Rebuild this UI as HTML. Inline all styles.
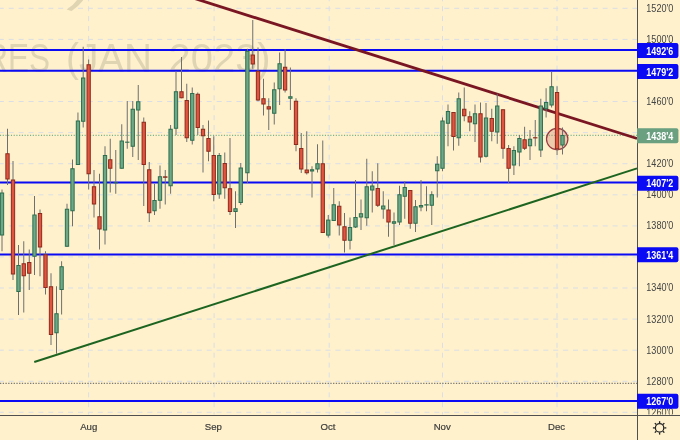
<!DOCTYPE html>
<html><head><meta charset="utf-8"><title>Chart</title>
<style>html,body{margin:0;padding:0;background:#fef1cc;}svg{display:block;will-change:transform;opacity:0.999}</style></head>
<body><svg width="680" height="440" viewBox="0 0 680 440">
<rect width="680" height="440" fill="#fef1cc"/>
<line x1="-1.2" x2="637" y1="412.3" y2="412.3" stroke="#dbdee6" stroke-width="1" stroke-dasharray="5 4.9"/>
<line x1="-1.2" x2="637" y1="381.3" y2="381.3" stroke="#dbdee6" stroke-width="1" stroke-dasharray="5 4.9"/>
<line x1="-1.2" x2="637" y1="350.2" y2="350.2" stroke="#dbdee6" stroke-width="1" stroke-dasharray="5 4.9"/>
<line x1="-1.2" x2="637" y1="319.1" y2="319.1" stroke="#dbdee6" stroke-width="1" stroke-dasharray="5 4.9"/>
<line x1="-1.2" x2="637" y1="288.0" y2="288.0" stroke="#dbdee6" stroke-width="1" stroke-dasharray="5 4.9"/>
<line x1="-1.2" x2="637" y1="256.9" y2="256.9" stroke="#dbdee6" stroke-width="1" stroke-dasharray="5 4.9"/>
<line x1="-1.2" x2="637" y1="225.9" y2="225.9" stroke="#dbdee6" stroke-width="1" stroke-dasharray="5 4.9"/>
<line x1="-1.2" x2="637" y1="194.8" y2="194.8" stroke="#dbdee6" stroke-width="1" stroke-dasharray="5 4.9"/>
<line x1="-1.2" x2="637" y1="163.7" y2="163.7" stroke="#dbdee6" stroke-width="1" stroke-dasharray="5 4.9"/>
<line x1="-1.2" x2="637" y1="132.6" y2="132.6" stroke="#dbdee6" stroke-width="1" stroke-dasharray="5 4.9"/>
<line x1="-1.2" x2="637" y1="101.5" y2="101.5" stroke="#dbdee6" stroke-width="1" stroke-dasharray="5 4.9"/>
<line x1="-1.2" x2="637" y1="70.5" y2="70.5" stroke="#dbdee6" stroke-width="1" stroke-dasharray="5 4.9"/>
<line x1="-1.2" x2="637" y1="39.4" y2="39.4" stroke="#dbdee6" stroke-width="1" stroke-dasharray="5 4.9"/>
<line x1="-1.2" x2="637" y1="8.3" y2="8.3" stroke="#dbdee6" stroke-width="1" stroke-dasharray="5 4.9"/>
<line x1="88.6" x2="88.6" y1="-3.7" y2="414.6" stroke="#dbdee6" stroke-width="1" stroke-dasharray="5 4.9"/>
<line x1="214.1" x2="214.1" y1="-3.7" y2="414.6" stroke="#dbdee6" stroke-width="1" stroke-dasharray="5 4.9"/>
<line x1="329.2" x2="329.2" y1="-3.7" y2="414.6" stroke="#dbdee6" stroke-width="1" stroke-dasharray="5 4.9"/>
<line x1="442.5" x2="442.5" y1="-3.7" y2="414.6" stroke="#dbdee6" stroke-width="1" stroke-dasharray="5 4.9"/>
<line x1="557" x2="557" y1="-3.7" y2="414.6" stroke="#dbdee6" stroke-width="1" stroke-dasharray="5 4.9"/>
<text x="-14.8" y="71.6" textLength="64.8" font-size="40.5" fill="#e0d5b3" font-family="Liberation Sans, sans-serif" lengthAdjust="spacingAndGlyphs">RES</text>
<text x="66" y="71.6" textLength="86" font-size="40.5" fill="#e0d5b3" font-family="Liberation Sans, sans-serif" lengthAdjust="spacingAndGlyphs">(JAN</text>
<text x="168.6" y="71.6" textLength="102" font-size="40.5" fill="#e0d5b3" font-family="Liberation Sans, sans-serif" lengthAdjust="spacingAndGlyphs">2023)</text>
<text transform="translate(69.5,-2.5) rotate(15)" x="0" y="0" font-size="60" fill="#e0d5b3" font-family="Liberation Sans, sans-serif">)</text>
<line x1="0" x2="637" y1="135.3" y2="135.3" stroke="#55a078" stroke-width="1" stroke-dasharray="1.1 1.63"/>
<line x1="0" x2="637" y1="383.3" y2="383.3" stroke="#5a5a5a" stroke-width="1" stroke-dasharray="1.3 1.43"/>
<line x1="0" x2="638" y1="50.1" y2="50.1" stroke="#0a0af5" stroke-width="2"/>
<line x1="0" x2="638" y1="70.8" y2="70.8" stroke="#0a0af5" stroke-width="2"/>
<line x1="0" x2="638" y1="182.4" y2="182.4" stroke="#0a0af5" stroke-width="2"/>
<line x1="0" x2="638" y1="254.6" y2="254.6" stroke="#0a0af5" stroke-width="2"/>
<line x1="0" x2="638" y1="401.1" y2="401.1" stroke="#0a0af5" stroke-width="2"/>
<line x1="182.95" y1="-5.2" x2="637" y2="138.5" stroke="#7a1622" stroke-width="2.8"/>
<line x1="34.25" y1="362" x2="637" y2="168.4" stroke="#1d6420" stroke-width="2"/>
<circle cx="557.2" cy="139.1" r="10.7" fill="rgba(203,127,107,0.34)" stroke="#983840" stroke-width="1.2"/>
<line x1="2.00" x2="2.00" y1="189.5" y2="251.25" stroke="#6f6f6f" stroke-width="1"/><rect x="0.35" y="193.0" width="3.3" height="42.00" fill="#6fa886" stroke="#2c6e4f" stroke-width="1"/>
<line x1="7.50" x2="7.50" y1="128.75" y2="185" stroke="#6f6f6f" stroke-width="1"/><rect x="5.85" y="153.75" width="3.3" height="25.25" fill="#e1543f" stroke="#8c2b1d" stroke-width="1"/>
<line x1="13.00" x2="13.00" y1="161" y2="280" stroke="#6f6f6f" stroke-width="1"/><rect x="11.35" y="180.0" width="3.3" height="94.00" fill="#e1543f" stroke="#8c2b1d" stroke-width="1"/>
<line x1="18.50" x2="18.50" y1="245" y2="315" stroke="#6f6f6f" stroke-width="1"/><rect x="16.85" y="265.5" width="3.3" height="26.00" fill="#6fa886" stroke="#2c6e4f" stroke-width="1"/>
<line x1="23.75" x2="23.75" y1="241.25" y2="312.5" stroke="#6f6f6f" stroke-width="1"/><rect x="22.10" y="263.75" width="3.3" height="12.00" fill="#e1543f" stroke="#8c2b1d" stroke-width="1"/>
<line x1="29.25" x2="29.25" y1="249.5" y2="290" stroke="#6f6f6f" stroke-width="1"/><rect x="27.60" y="262.5" width="3.3" height="10.75" fill="#e1543f" stroke="#8c2b1d" stroke-width="1"/>
<line x1="34.50" x2="34.50" y1="196" y2="275" stroke="#6f6f6f" stroke-width="1"/><rect x="32.85" y="215.0" width="3.3" height="41.25" fill="#6fa886" stroke="#2c6e4f" stroke-width="1"/>
<line x1="40.00" x2="40.00" y1="209.5" y2="276.25" stroke="#6f6f6f" stroke-width="1"/><rect x="38.35" y="213.5" width="3.3" height="33.50" fill="#e1543f" stroke="#8c2b1d" stroke-width="1"/>
<line x1="45.50" x2="45.50" y1="251.25" y2="294.5" stroke="#6f6f6f" stroke-width="1"/><rect x="43.85" y="254.75" width="3.3" height="32.75" fill="#e1543f" stroke="#8c2b1d" stroke-width="1"/>
<line x1="51.00" x2="51.00" y1="273.25" y2="345" stroke="#6f6f6f" stroke-width="1"/><rect x="49.35" y="286.75" width="3.3" height="47.75" fill="#e1543f" stroke="#8c2b1d" stroke-width="1"/>
<line x1="56.50" x2="56.50" y1="286.25" y2="353.75" stroke="#6f6f6f" stroke-width="1"/><rect x="54.85" y="313.75" width="3.3" height="19.00" fill="#6fa886" stroke="#2c6e4f" stroke-width="1"/>
<line x1="61.60" x2="61.60" y1="261.25" y2="314.5" stroke="#6f6f6f" stroke-width="1"/><rect x="59.95" y="266.75" width="3.3" height="22.75" fill="#6fa886" stroke="#2c6e4f" stroke-width="1"/>
<line x1="67.00" x2="67.00" y1="203.75" y2="246.75" stroke="#6f6f6f" stroke-width="1"/><rect x="65.35" y="209.25" width="3.3" height="37.00" fill="#6fa886" stroke="#2c6e4f" stroke-width="1"/>
<line x1="72.50" x2="72.50" y1="159.5" y2="226.25" stroke="#6f6f6f" stroke-width="1"/><rect x="70.85" y="168.75" width="3.3" height="42.00" fill="#6fa886" stroke="#2c6e4f" stroke-width="1"/>
<line x1="77.95" x2="77.95" y1="112.5" y2="165" stroke="#6f6f6f" stroke-width="1"/><rect x="76.30" y="121.0" width="3.3" height="43.50" fill="#6fa886" stroke="#2c6e4f" stroke-width="1"/>
<line x1="83.20" x2="83.20" y1="46.75" y2="127.5" stroke="#6f6f6f" stroke-width="1"/><rect x="81.55" y="78.0" width="3.3" height="43.25" fill="#6fa886" stroke="#2c6e4f" stroke-width="1"/>
<line x1="88.65" x2="88.65" y1="59.5" y2="189.5" stroke="#6f6f6f" stroke-width="1"/><rect x="87.00" y="64.75" width="3.3" height="109.00" fill="#e1543f" stroke="#8c2b1d" stroke-width="1"/>
<line x1="94.00" x2="94.00" y1="170" y2="217.5" stroke="#6f6f6f" stroke-width="1"/><rect x="92.35" y="186.75" width="3.3" height="17.25" fill="#e1543f" stroke="#8c2b1d" stroke-width="1"/>
<line x1="99.50" x2="99.50" y1="173.75" y2="249.5" stroke="#6f6f6f" stroke-width="1"/><rect x="97.85" y="216.75" width="3.3" height="12.25" fill="#e1543f" stroke="#8c2b1d" stroke-width="1"/>
<line x1="105.00" x2="105.00" y1="146.25" y2="244.5" stroke="#6f6f6f" stroke-width="1"/><rect x="103.35" y="155.5" width="3.3" height="74.50" fill="#6fa886" stroke="#2c6e4f" stroke-width="1"/>
<line x1="110.25" x2="110.25" y1="138.75" y2="192.5" stroke="#6f6f6f" stroke-width="1"/><rect x="108.60" y="159.75" width="3.3" height="8.50" fill="#e1543f" stroke="#8c2b1d" stroke-width="1"/>
<line x1="115.75" x2="115.75" y1="150" y2="193.75" stroke="#6f6f6f" stroke-width="1"/><line x1="113.55" x2="117.95" y1="182.80" y2="182.80" stroke="#2c6e4f" stroke-width="1.10"/>
<line x1="121.75" x2="121.75" y1="124.25" y2="168.75" stroke="#6f6f6f" stroke-width="1"/><rect x="120.10" y="141.0" width="3.3" height="27.25" fill="#6fa886" stroke="#2c6e4f" stroke-width="1"/>
<line x1="127.25" x2="127.25" y1="101" y2="148.75" stroke="#6f6f6f" stroke-width="1"/><line x1="125.05" x2="129.45" y1="142.20" y2="142.20" stroke="#2c6e4f" stroke-width="1.10"/>
<line x1="132.75" x2="132.75" y1="101" y2="157" stroke="#6f6f6f" stroke-width="1"/><rect x="131.10" y="109.25" width="3.3" height="37.00" fill="#6fa886" stroke="#2c6e4f" stroke-width="1"/>
<line x1="138.25" x2="138.25" y1="85" y2="160" stroke="#6f6f6f" stroke-width="1"/><rect x="136.60" y="101.75" width="3.3" height="8.25" fill="#6fa886" stroke="#2c6e4f" stroke-width="1"/>
<line x1="143.75" x2="143.75" y1="117.5" y2="206" stroke="#6f6f6f" stroke-width="1"/><rect x="142.10" y="122.25" width="3.3" height="42.25" fill="#e1543f" stroke="#8c2b1d" stroke-width="1"/>
<line x1="149.25" x2="149.25" y1="162" y2="222" stroke="#6f6f6f" stroke-width="1"/><rect x="147.60" y="169.75" width="3.3" height="43.00" fill="#e1543f" stroke="#8c2b1d" stroke-width="1"/>
<line x1="154.50" x2="154.50" y1="183.75" y2="215" stroke="#6f6f6f" stroke-width="1"/><rect x="152.85" y="200.5" width="3.3" height="10.25" fill="#6fa886" stroke="#2c6e4f" stroke-width="1"/>
<line x1="160.00" x2="160.00" y1="165.5" y2="208.75" stroke="#6f6f6f" stroke-width="1"/><rect x="158.35" y="176.75" width="3.3" height="23.50" fill="#6fa886" stroke="#2c6e4f" stroke-width="1"/>
<line x1="165.25" x2="165.25" y1="170" y2="204.5" stroke="#6f6f6f" stroke-width="1"/><line x1="163.05" x2="167.45" y1="177.05" y2="177.05" stroke="#8c2b1d" stroke-width="1.50"/>
<line x1="170.60" x2="170.60" y1="125" y2="193.75" stroke="#6f6f6f" stroke-width="1"/><rect x="168.95" y="129.25" width="3.3" height="56.50" fill="#6fa886" stroke="#2c6e4f" stroke-width="1"/>
<line x1="176.00" x2="176.00" y1="71.25" y2="135" stroke="#6f6f6f" stroke-width="1"/><rect x="174.35" y="91.75" width="3.3" height="36.50" fill="#6fa886" stroke="#2c6e4f" stroke-width="1"/>
<line x1="181.50" x2="181.50" y1="57" y2="98.25" stroke="#6f6f6f" stroke-width="1"/><rect x="179.85" y="91.75" width="3.3" height="6.00" fill="#e1543f" stroke="#8c2b1d" stroke-width="1"/>
<line x1="186.75" x2="186.75" y1="83.75" y2="142" stroke="#6f6f6f" stroke-width="1"/><rect x="185.10" y="100.5" width="3.3" height="37.25" fill="#e1543f" stroke="#8c2b1d" stroke-width="1"/>
<line x1="192.25" x2="192.25" y1="87.5" y2="144.5" stroke="#6f6f6f" stroke-width="1"/><rect x="190.60" y="93.5" width="3.3" height="46.75" fill="#6fa886" stroke="#2c6e4f" stroke-width="1"/>
<line x1="197.75" x2="197.75" y1="92.5" y2="135" stroke="#6f6f6f" stroke-width="1"/><rect x="196.10" y="94.25" width="3.3" height="33.25" fill="#e1543f" stroke="#8c2b1d" stroke-width="1"/>
<line x1="203.00" x2="203.00" y1="125" y2="172.5" stroke="#6f6f6f" stroke-width="1"/><rect x="201.35" y="129.25" width="3.3" height="6.50" fill="#e1543f" stroke="#8c2b1d" stroke-width="1"/>
<line x1="208.50" x2="208.50" y1="120.5" y2="161.25" stroke="#6f6f6f" stroke-width="1"/><rect x="206.85" y="138.5" width="3.3" height="12.75" fill="#e1543f" stroke="#8c2b1d" stroke-width="1"/>
<line x1="213.75" x2="213.75" y1="136.25" y2="201.25" stroke="#6f6f6f" stroke-width="1"/><rect x="212.10" y="155.5" width="3.3" height="39.00" fill="#e1543f" stroke="#8c2b1d" stroke-width="1"/>
<line x1="219.25" x2="219.25" y1="153" y2="198.75" stroke="#6f6f6f" stroke-width="1"/><rect x="217.60" y="155.5" width="3.3" height="38.50" fill="#6fa886" stroke="#2c6e4f" stroke-width="1"/>
<line x1="224.75" x2="224.75" y1="152.5" y2="198.75" stroke="#6f6f6f" stroke-width="1"/><rect x="223.10" y="163.5" width="3.3" height="24.25" fill="#e1543f" stroke="#8c2b1d" stroke-width="1"/>
<line x1="230.00" x2="230.00" y1="138" y2="215" stroke="#6f6f6f" stroke-width="1"/><rect x="228.35" y="188.75" width="3.3" height="22.75" fill="#e1543f" stroke="#8c2b1d" stroke-width="1"/>
<line x1="235.50" x2="235.50" y1="191.25" y2="228" stroke="#6f6f6f" stroke-width="1"/><rect x="233.85" y="208.75" width="3.3" height="2.75" fill="#6fa886" stroke="#2c6e4f" stroke-width="1"/>
<line x1="240.75" x2="240.75" y1="163" y2="205" stroke="#6f6f6f" stroke-width="1"/><rect x="239.10" y="168.0" width="3.3" height="34.50" fill="#6fa886" stroke="#2c6e4f" stroke-width="1"/>
<line x1="247.40" x2="247.40" y1="48.75" y2="183" stroke="#6f6f6f" stroke-width="1"/><rect x="245.75" y="51.25" width="3.3" height="121.50" fill="#6fa886" stroke="#2c6e4f" stroke-width="1"/>
<line x1="252.75" x2="252.75" y1="20" y2="68.75" stroke="#6f6f6f" stroke-width="1"/><rect x="251.10" y="55.0" width="3.3" height="9.00" fill="#e1543f" stroke="#8c2b1d" stroke-width="1"/>
<line x1="258.00" x2="258.00" y1="47.5" y2="101.25" stroke="#6f6f6f" stroke-width="1"/><rect x="256.35" y="71.25" width="3.3" height="28.75" fill="#e1543f" stroke="#8c2b1d" stroke-width="1"/>
<line x1="263.50" x2="263.50" y1="78.75" y2="115.5" stroke="#6f6f6f" stroke-width="1"/><rect x="261.85" y="98.75" width="3.3" height="5.25" fill="#e1543f" stroke="#8c2b1d" stroke-width="1"/>
<line x1="268.75" x2="268.75" y1="98.25" y2="130" stroke="#6f6f6f" stroke-width="1"/><rect x="267.10" y="106.75" width="3.3" height="2.25" fill="#e1543f" stroke="#8c2b1d" stroke-width="1"/>
<line x1="274.25" x2="274.25" y1="82.5" y2="124.5" stroke="#6f6f6f" stroke-width="1"/><rect x="272.60" y="89.75" width="3.3" height="23.50" fill="#6fa886" stroke="#2c6e4f" stroke-width="1"/>
<line x1="279.60" x2="279.60" y1="52.5" y2="105" stroke="#6f6f6f" stroke-width="1"/><rect x="277.95" y="63.75" width="3.3" height="25.00" fill="#6fa886" stroke="#2c6e4f" stroke-width="1"/>
<line x1="285.10" x2="285.10" y1="49.25" y2="92.5" stroke="#6f6f6f" stroke-width="1"/><rect x="283.45" y="67.25" width="3.3" height="22.75" fill="#e1543f" stroke="#8c2b1d" stroke-width="1"/>
<line x1="290.40" x2="290.40" y1="67.5" y2="110" stroke="#6f6f6f" stroke-width="1"/><rect x="288.75" y="96.75" width="3.3" height="1.50" fill="#6fa886" stroke="#2c6e4f" stroke-width="1"/>
<line x1="296.00" x2="296.00" y1="98.25" y2="151.25" stroke="#6f6f6f" stroke-width="1"/><rect x="294.35" y="101.25" width="3.3" height="43.25" fill="#e1543f" stroke="#8c2b1d" stroke-width="1"/>
<line x1="301.25" x2="301.25" y1="133" y2="173" stroke="#6f6f6f" stroke-width="1"/><rect x="299.60" y="148.5" width="3.3" height="20.50" fill="#e1543f" stroke="#8c2b1d" stroke-width="1"/>
<line x1="306.75" x2="306.75" y1="131.25" y2="174.5" stroke="#6f6f6f" stroke-width="1"/><rect x="305.10" y="170.0" width="3.3" height="2.75" fill="#e1543f" stroke="#8c2b1d" stroke-width="1"/>
<line x1="312.00" x2="312.00" y1="166.25" y2="197.5" stroke="#6f6f6f" stroke-width="1"/><rect x="310.35" y="169.75" width="3.3" height="1.25" fill="#6fa886" stroke="#2c6e4f" stroke-width="1"/>
<line x1="317.50" x2="317.50" y1="144.25" y2="172.5" stroke="#6f6f6f" stroke-width="1"/><rect x="315.85" y="163.75" width="3.3" height="5.25" fill="#6fa886" stroke="#2c6e4f" stroke-width="1"/>
<line x1="322.75" x2="322.75" y1="140.5" y2="233" stroke="#6f6f6f" stroke-width="1"/><rect x="321.10" y="163.75" width="3.3" height="68.75" fill="#e1543f" stroke="#8c2b1d" stroke-width="1"/>
<line x1="328.25" x2="328.25" y1="215" y2="237.5" stroke="#6f6f6f" stroke-width="1"/><rect x="326.60" y="220.1" width="3.3" height="15.00" fill="#6fa886" stroke="#2c6e4f" stroke-width="1"/>
<line x1="333.75" x2="333.75" y1="188" y2="221" stroke="#6f6f6f" stroke-width="1"/><rect x="332.10" y="204.75" width="3.3" height="15.75" fill="#6fa886" stroke="#2c6e4f" stroke-width="1"/>
<line x1="339.25" x2="339.25" y1="201.25" y2="235.5" stroke="#6f6f6f" stroke-width="1"/><rect x="337.60" y="206.25" width="3.3" height="18.75" fill="#e1543f" stroke="#8c2b1d" stroke-width="1"/>
<line x1="344.50" x2="344.50" y1="213" y2="252.5" stroke="#6f6f6f" stroke-width="1"/><rect x="342.85" y="226.75" width="3.3" height="13.50" fill="#e1543f" stroke="#8c2b1d" stroke-width="1"/>
<line x1="350.00" x2="350.00" y1="217.5" y2="249.5" stroke="#6f6f6f" stroke-width="1"/><rect x="348.35" y="227.5" width="3.3" height="12.75" fill="#6fa886" stroke="#2c6e4f" stroke-width="1"/>
<line x1="355.50" x2="355.50" y1="180" y2="228" stroke="#6f6f6f" stroke-width="1"/><rect x="353.85" y="217.5" width="3.3" height="9.50" fill="#6fa886" stroke="#2c6e4f" stroke-width="1"/>
<line x1="361.00" x2="361.00" y1="199.5" y2="230" stroke="#6f6f6f" stroke-width="1"/><rect x="359.35" y="213.75" width="3.3" height="3.25" fill="#6fa886" stroke="#2c6e4f" stroke-width="1"/>
<line x1="366.75" x2="366.75" y1="158.75" y2="225.75" stroke="#6f6f6f" stroke-width="1"/><rect x="365.10" y="186.75" width="3.3" height="31.00" fill="#6fa886" stroke="#2c6e4f" stroke-width="1"/>
<line x1="372.25" x2="372.25" y1="171.25" y2="212.5" stroke="#6f6f6f" stroke-width="1"/><rect x="370.60" y="186.0" width="3.3" height="4.00" fill="#6fa886" stroke="#2c6e4f" stroke-width="1"/>
<line x1="377.75" x2="377.75" y1="163.25" y2="207" stroke="#6f6f6f" stroke-width="1"/><rect x="376.10" y="188.5" width="3.3" height="16.75" fill="#e1543f" stroke="#8c2b1d" stroke-width="1"/>
<line x1="383.25" x2="383.25" y1="191.25" y2="218.75" stroke="#6f6f6f" stroke-width="1"/><rect x="381.60" y="206.0" width="3.3" height="3.00" fill="#6fa886" stroke="#2c6e4f" stroke-width="1"/>
<line x1="388.50" x2="388.50" y1="199.5" y2="236.75" stroke="#6f6f6f" stroke-width="1"/><rect x="386.85" y="210.0" width="3.3" height="12.00" fill="#e1543f" stroke="#8c2b1d" stroke-width="1"/>
<line x1="394.00" x2="394.00" y1="212.5" y2="245" stroke="#6f6f6f" stroke-width="1"/><rect x="392.35" y="221.75" width="3.3" height="1.50" fill="#6fa886" stroke="#2c6e4f" stroke-width="1"/>
<line x1="399.50" x2="399.50" y1="185.75" y2="225" stroke="#6f6f6f" stroke-width="1"/><rect x="397.85" y="194.75" width="3.3" height="27.25" fill="#6fa886" stroke="#2c6e4f" stroke-width="1"/>
<line x1="404.75" x2="404.75" y1="181.25" y2="218.75" stroke="#6f6f6f" stroke-width="1"/><rect x="403.10" y="187.5" width="3.3" height="8.75" fill="#6fa886" stroke="#2c6e4f" stroke-width="1"/>
<line x1="410.25" x2="410.25" y1="190" y2="228.75" stroke="#6f6f6f" stroke-width="1"/><rect x="408.60" y="190.5" width="3.3" height="32.75" fill="#e1543f" stroke="#8c2b1d" stroke-width="1"/>
<line x1="415.50" x2="415.50" y1="200" y2="232" stroke="#6f6f6f" stroke-width="1"/><rect x="413.85" y="206.75" width="3.3" height="16.50" fill="#6fa886" stroke="#2c6e4f" stroke-width="1"/>
<line x1="421.00" x2="421.00" y1="180" y2="211.25" stroke="#6f6f6f" stroke-width="1"/><rect x="419.35" y="205.5" width="3.3" height="1.50" fill="#6fa886" stroke="#2c6e4f" stroke-width="1"/>
<line x1="426.50" x2="426.50" y1="186.25" y2="211.25" stroke="#6f6f6f" stroke-width="1"/><line x1="424.30" x2="428.70" y1="204.88" y2="204.88" stroke="#2c6e4f" stroke-width="1.25"/>
<line x1="431.75" x2="431.75" y1="191.25" y2="225" stroke="#6f6f6f" stroke-width="1"/><rect x="430.10" y="194.75" width="3.3" height="10.50" fill="#6fa886" stroke="#2c6e4f" stroke-width="1"/>
<line x1="437.25" x2="437.25" y1="156.25" y2="197.5" stroke="#6f6f6f" stroke-width="1"/><rect x="435.60" y="164.25" width="3.3" height="6.50" fill="#6fa886" stroke="#2c6e4f" stroke-width="1"/>
<line x1="442.50" x2="442.50" y1="117.5" y2="171.25" stroke="#6f6f6f" stroke-width="1"/><rect x="440.85" y="121.0" width="3.3" height="47.25" fill="#6fa886" stroke="#2c6e4f" stroke-width="1"/>
<line x1="448.00" x2="448.00" y1="104.5" y2="146.25" stroke="#6f6f6f" stroke-width="1"/><rect x="446.35" y="111.5" width="3.3" height="11.75" fill="#6fa886" stroke="#2c6e4f" stroke-width="1"/>
<line x1="453.50" x2="453.50" y1="112" y2="150.5" stroke="#6f6f6f" stroke-width="1"/><rect x="451.85" y="112.5" width="3.3" height="24.00" fill="#e1543f" stroke="#8c2b1d" stroke-width="1"/>
<line x1="458.75" x2="458.75" y1="92.5" y2="145.75" stroke="#6f6f6f" stroke-width="1"/><rect x="457.10" y="98.75" width="3.3" height="39.00" fill="#6fa886" stroke="#2c6e4f" stroke-width="1"/>
<line x1="464.25" x2="464.25" y1="87.5" y2="121.25" stroke="#6f6f6f" stroke-width="1"/><rect x="462.60" y="109.25" width="3.3" height="6.50" fill="#e1543f" stroke="#8c2b1d" stroke-width="1"/>
<line x1="469.75" x2="469.75" y1="111.25" y2="131.25" stroke="#6f6f6f" stroke-width="1"/><rect x="468.10" y="116.75" width="3.3" height="5.25" fill="#e1543f" stroke="#8c2b1d" stroke-width="1"/>
<line x1="475.00" x2="475.00" y1="104.5" y2="142" stroke="#6f6f6f" stroke-width="1"/><rect x="473.35" y="113.75" width="3.3" height="10.00" fill="#6fa886" stroke="#2c6e4f" stroke-width="1"/>
<line x1="480.50" x2="480.50" y1="102.5" y2="162.5" stroke="#6f6f6f" stroke-width="1"/><rect x="478.85" y="113.75" width="3.3" height="43.25" fill="#e1543f" stroke="#8c2b1d" stroke-width="1"/>
<line x1="486.00" x2="486.00" y1="103" y2="157.5" stroke="#6f6f6f" stroke-width="1"/><rect x="484.35" y="118.0" width="3.3" height="38.25" fill="#6fa886" stroke="#2c6e4f" stroke-width="1"/>
<line x1="491.75" x2="491.75" y1="108.75" y2="141.25" stroke="#6f6f6f" stroke-width="1"/><rect x="490.10" y="118.5" width="3.3" height="12.75" fill="#e1543f" stroke="#8c2b1d" stroke-width="1"/>
<line x1="497.25" x2="497.25" y1="93.75" y2="143.75" stroke="#6f6f6f" stroke-width="1"/><rect x="495.60" y="106.0" width="3.3" height="26.00" fill="#6fa886" stroke="#2c6e4f" stroke-width="1"/>
<line x1="503.00" x2="503.00" y1="109.25" y2="158.75" stroke="#6f6f6f" stroke-width="1"/><rect x="501.35" y="109.75" width="3.3" height="38.50" fill="#e1543f" stroke="#8c2b1d" stroke-width="1"/>
<line x1="508.60" x2="508.60" y1="145" y2="183" stroke="#6f6f6f" stroke-width="1"/><rect x="506.95" y="148.5" width="3.3" height="19.75" fill="#e1543f" stroke="#8c2b1d" stroke-width="1"/>
<line x1="513.90" x2="513.90" y1="146.25" y2="175" stroke="#6f6f6f" stroke-width="1"/><rect x="512.25" y="150.5" width="3.3" height="14.50" fill="#6fa886" stroke="#2c6e4f" stroke-width="1"/>
<line x1="519.40" x2="519.40" y1="135" y2="166.25" stroke="#6f6f6f" stroke-width="1"/><rect x="517.75" y="138.5" width="3.3" height="13.50" fill="#6fa886" stroke="#2c6e4f" stroke-width="1"/>
<line x1="524.60" x2="524.60" y1="126.75" y2="150" stroke="#6f6f6f" stroke-width="1"/><rect x="522.95" y="139.75" width="3.3" height="8.50" fill="#e1543f" stroke="#8c2b1d" stroke-width="1"/>
<line x1="530.00" x2="530.00" y1="130" y2="160" stroke="#6f6f6f" stroke-width="1"/><rect x="528.35" y="139.25" width="3.3" height="6.50" fill="#6fa886" stroke="#2c6e4f" stroke-width="1"/>
<line x1="535.25" x2="535.25" y1="120" y2="146.25" stroke="#6f6f6f" stroke-width="1"/><line x1="533.05" x2="537.45" y1="137.80" y2="137.80" stroke="#8c2b1d" stroke-width="1.20"/>
<line x1="540.80" x2="540.80" y1="98.75" y2="157" stroke="#6f6f6f" stroke-width="1"/><rect x="539.15" y="106.0" width="3.3" height="44.00" fill="#6fa886" stroke="#2c6e4f" stroke-width="1"/>
<line x1="546.10" x2="546.10" y1="88.2" y2="117.5" stroke="#6f6f6f" stroke-width="1"/><rect x="544.45" y="102.5" width="3.3" height="6.25" fill="#6fa886" stroke="#2c6e4f" stroke-width="1"/>
<line x1="551.60" x2="551.60" y1="71.75" y2="107.5" stroke="#6f6f6f" stroke-width="1"/><rect x="549.95" y="86.75" width="3.3" height="18.25" fill="#6fa886" stroke="#2c6e4f" stroke-width="1"/>
<line x1="557.05" x2="557.05" y1="86.25" y2="155" stroke="#6f6f6f" stroke-width="1"/><rect x="555.40" y="92.5" width="3.3" height="56.25" fill="#e1543f" stroke="#8c2b1d" stroke-width="1"/>
<line x1="562.50" x2="562.50" y1="127.5" y2="154.5" stroke="#6f6f6f" stroke-width="1"/><rect x="560.85" y="135.5" width="3.3" height="9.50" fill="#6fa886" stroke="#2c6e4f" stroke-width="1"/>
<rect x="637.5" y="0" width="43" height="440" fill="#fef1cc"/>
<rect x="0" y="415.5" width="680" height="25" fill="#fef1cc"/>
<line x1="637.5" x2="637.5" y1="0" y2="440" stroke="#505050" stroke-width="1"/>
<line x1="0" x2="680" y1="415.5" y2="415.5" stroke="#505050" stroke-width="1"/>
<clipPath id="cp"><rect x="637" y="0" width="43" height="414.5"/></clipPath>
<g clip-path="url(#cp)">
<text x="646.3" y="11.7" font-size="10.4" font-weight="normal" fill="#444" textLength="27" lengthAdjust="spacingAndGlyphs" font-family="Liberation Sans, sans-serif">1520'0</text>
<text x="646.3" y="42.8" font-size="10.4" font-weight="normal" fill="#444" textLength="27" lengthAdjust="spacingAndGlyphs" font-family="Liberation Sans, sans-serif">1500'0</text>
<text x="646.3" y="104.9" font-size="10.4" font-weight="normal" fill="#444" textLength="27" lengthAdjust="spacingAndGlyphs" font-family="Liberation Sans, sans-serif">1460'0</text>
<text x="646.3" y="167.1" font-size="10.4" font-weight="normal" fill="#444" textLength="27" lengthAdjust="spacingAndGlyphs" font-family="Liberation Sans, sans-serif">1420'0</text>
<text x="646.3" y="198.2" font-size="10.4" font-weight="normal" fill="#444" textLength="27" lengthAdjust="spacingAndGlyphs" font-family="Liberation Sans, sans-serif">1400'0</text>
<text x="646.3" y="229.3" font-size="10.4" font-weight="normal" fill="#444" textLength="27" lengthAdjust="spacingAndGlyphs" font-family="Liberation Sans, sans-serif">1380'0</text>
<text x="646.3" y="291.4" font-size="10.4" font-weight="normal" fill="#444" textLength="27" lengthAdjust="spacingAndGlyphs" font-family="Liberation Sans, sans-serif">1340'0</text>
<text x="646.3" y="322.5" font-size="10.4" font-weight="normal" fill="#444" textLength="27" lengthAdjust="spacingAndGlyphs" font-family="Liberation Sans, sans-serif">1320'0</text>
<text x="646.3" y="353.6" font-size="10.4" font-weight="normal" fill="#444" textLength="27" lengthAdjust="spacingAndGlyphs" font-family="Liberation Sans, sans-serif">1300'0</text>
<text x="646.3" y="384.7" font-size="10.4" font-weight="normal" fill="#444" textLength="27" lengthAdjust="spacingAndGlyphs" font-family="Liberation Sans, sans-serif">1280'0</text>
<text x="646.3" y="415.7" font-size="10.4" font-weight="normal" fill="#444" textLength="27" lengthAdjust="spacingAndGlyphs" font-family="Liberation Sans, sans-serif">1260'0</text>
</g>
<path d="M637 43.1H676.4a2 2 0 0 1 2 2V56.1a2 2 0 0 1 -2 2H637Z" fill="#0a0af5"/><text x="646.3" y="54.6" font-size="10.4" font-weight="bold" fill="#fff" textLength="27" lengthAdjust="spacingAndGlyphs" font-family="Liberation Sans, sans-serif">1492'6</text>
<path d="M637 64.0H676.4a2 2 0 0 1 2 2V77.0a2 2 0 0 1 -2 2H637Z" fill="#0a0af5"/><text x="646.3" y="75.5" font-size="10.4" font-weight="bold" fill="#fff" textLength="27" lengthAdjust="spacingAndGlyphs" font-family="Liberation Sans, sans-serif">1479'2</text>
<path d="M637 128.2H676.4a2 2 0 0 1 2 2V141.2a2 2 0 0 1 -2 2H637Z" fill="#6a9f80"/><text x="646.3" y="139.8" font-size="10.4" font-weight="bold" fill="#fff" textLength="27" lengthAdjust="spacingAndGlyphs" font-family="Liberation Sans, sans-serif">1438'4</text>
<path d="M637 175.7H676.4a2 2 0 0 1 2 2V188.7a2 2 0 0 1 -2 2H637Z" fill="#0a0af5"/><text x="646.3" y="187.2" font-size="10.4" font-weight="bold" fill="#fff" textLength="27" lengthAdjust="spacingAndGlyphs" font-family="Liberation Sans, sans-serif">1407'2</text>
<path d="M637 247.3H676.4a2 2 0 0 1 2 2V260.3a2 2 0 0 1 -2 2H637Z" fill="#0a0af5"/><text x="646.3" y="258.9" font-size="10.4" font-weight="bold" fill="#fff" textLength="27" lengthAdjust="spacingAndGlyphs" font-family="Liberation Sans, sans-serif">1361'4</text>
<path d="M637 393.75H676.4a2 2 0 0 1 2 2V406.75a2 2 0 0 1 -2 2H637Z" fill="#0a0af5"/><text x="646.3" y="405.3" font-size="10.4" font-weight="bold" fill="#fff" textLength="27" lengthAdjust="spacingAndGlyphs" font-family="Liberation Sans, sans-serif">1267'0</text>
<text x="88.7" y="429.7" text-anchor="middle" font-size="9.6" fill="#3c3c3c" stroke="#3c3c3c" stroke-width="0.2" font-family="Liberation Sans, sans-serif">Aug</text>
<text x="213.3" y="429.7" text-anchor="middle" font-size="9.6" fill="#3c3c3c" stroke="#3c3c3c" stroke-width="0.2" font-family="Liberation Sans, sans-serif">Sep</text>
<text x="328.0" y="429.7" text-anchor="middle" font-size="9.6" fill="#3c3c3c" stroke="#3c3c3c" stroke-width="0.2" font-family="Liberation Sans, sans-serif">Oct</text>
<text x="442.2" y="429.7" text-anchor="middle" font-size="9.6" fill="#3c3c3c" stroke="#3c3c3c" stroke-width="0.2" font-family="Liberation Sans, sans-serif">Nov</text>
<text x="556.6" y="429.7" text-anchor="middle" font-size="9.6" fill="#3c3c3c" stroke="#3c3c3c" stroke-width="0.2" font-family="Liberation Sans, sans-serif">Dec</text>
<g transform="translate(659.6,427.9)" stroke="#222" fill="none"><circle r="4.2" stroke-width="1.25"/><line x1="0" y1="-4.7" x2="0" y2="-6.7" stroke-width="1.3" transform="rotate(0)"/><line x1="0" y1="-4.7" x2="0" y2="-6.7" stroke-width="1.3" transform="rotate(45)"/><line x1="0" y1="-4.7" x2="0" y2="-6.7" stroke-width="1.3" transform="rotate(90)"/><line x1="0" y1="-4.7" x2="0" y2="-6.7" stroke-width="1.3" transform="rotate(135)"/><line x1="0" y1="-4.7" x2="0" y2="-6.7" stroke-width="1.3" transform="rotate(180)"/><line x1="0" y1="-4.7" x2="0" y2="-6.7" stroke-width="1.3" transform="rotate(225)"/><line x1="0" y1="-4.7" x2="0" y2="-6.7" stroke-width="1.3" transform="rotate(270)"/><line x1="0" y1="-4.7" x2="0" y2="-6.7" stroke-width="1.3" transform="rotate(315)"/></g>
</svg></body></html>
